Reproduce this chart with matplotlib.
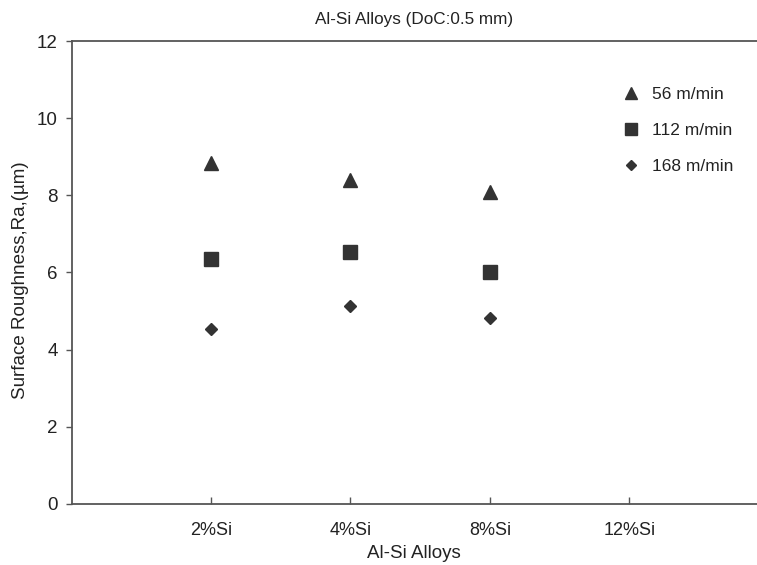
import numpy as np
import matplotlib.pyplot as plt

plt.rcParams['font.family'] = ['Liberation Sans', 'DejaVu Sans']

# data
alloys = ['2%Si', '4%Si', '8%Si', '12%Si']
speed_labels = ['56 m/min', '112 m/min', '168 m/min']
ra_56 = [8.85, 8.39, 8.09]
ra_112 = [6.36, 6.54, 6.00]
ra_168 = [4.53, 5.14, 4.83]

ink = '#333333'
pos = np.arange(1, len(alloys) + 1)

fig = plt.figure(figsize=(7.57, 5.65), dpi=100)
ax = fig.add_axes([0.0945, 0.108, 0.9055, 0.8194])

n = len(ra_56)
ax.plot(pos[:n], ra_56, '^', color=ink, markersize=10, linestyle='none', label=speed_labels[0])
ax.plot(pos[:n], ra_112, 's', color=ink, markersize=9.5, linestyle='none', label=speed_labels[1])
ax.plot(pos[:n], ra_168, 'D', color=ink, markersize=6.5, linestyle='none', label=speed_labels[2])

ax.set_xlim(0, 4.915)
ax.set_ylim(0, 12)
ax.set_xticks(pos)
ax.set_xticklabels(alloys)
ax.set_yticks(np.arange(0, 13, 2))

ax.tick_params(axis='x', direction='in', length=5, width=1, color='#555555',
               labelsize=13, labelcolor='#222222', pad=13)
ax.tick_params(axis='y', direction='out', length=4, width=1, color='#555555',
               labelsize=13.5, labelcolor='#222222', pad=6)

ax.spines['right'].set_visible(False)
for s in ['top', 'left', 'bottom']:
	ax.spines[s].set_color('#555555')
	ax.spines[s].set_linewidth(1.3)

ax.set_title('Al-Si Alloys (DoC:0.5 mm)', fontsize=12.3, color='#222222', pad=12)
ax.set_xlabel('Al-Si Alloys', fontsize=13.5, color='#222222', labelpad=4)
ax.set_ylabel('Surface Roughness,Ra,(µm)', fontsize=13.5, color='#222222')
ax.yaxis.set_label_coords(-0.062, 0.484)

ax.legend(loc='upper left', bbox_to_anchor=(0.78, 0.935), frameon=False,
          fontsize=12.5, labelspacing=1.2, handlelength=1.0, handletextpad=0.75,
          labelcolor='#222222', markerscale=0.85)

plt.savefig('out.png', dpi=100)
